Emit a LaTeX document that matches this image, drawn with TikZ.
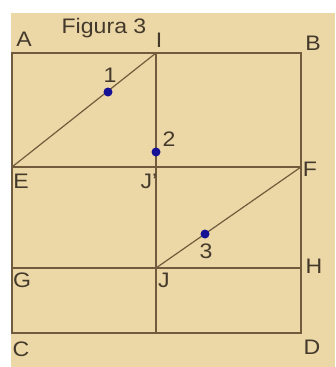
\documentclass[tikz,border=0pt]{standalone}
\usepackage{fontspec}
\setmainfont[FakeStretch=1.1]{Liberation Sans}
\definecolor{bg}{RGB}{236,215,166}
\definecolor{ln}{RGB}{112,92,60}
\definecolor{tx}{RGB}{68,58,44}
\definecolor{dotc}{RGB}{22,18,150}
\begin{document}
\begin{tikzpicture}[x=1pt,y=-1pt,
  side/.style={draw=ln,line width=2pt},
  diag/.style={draw=ln,line width=1.2pt},
  lab/.style={text=tx,font=\fontsize{21}{21}\selectfont,inner sep=0pt},
  pt/.style={circle,fill=dotc,inner sep=0pt,minimum size=9pt}]
\useasboundingbox (0,0) rectangle (335,367);
\fill[white] (0,0) rectangle (335,367);
\fill[bg] (11,13) rectangle (335,367);
% corner coordinates
\coordinate (A) at (12,53);
\coordinate (I) at (156,53);
\coordinate (B) at (301,53);
\coordinate (E) at (12,167);
\coordinate (Jp) at (156,167);
\coordinate (F) at (301,167);
\coordinate (G) at (12,268);
\coordinate (J) at (156,268);
\coordinate (H) at (301,268);
\coordinate (C) at (12,333);
\coordinate (K) at (156,333);
\coordinate (D) at (301,333);
% lines
\draw[side] (A) -- (B) -- (D) -- (C) -- cycle;
\draw[side] (I) -- (K);
\draw[side] (E) -- (F);
\draw[side] (G) -- (H);
\draw[diag] (E) -- (I);
\draw[diag] (J) -- (F);
% points
\node[pt] (p1) at (108,92) {};
\node[pt] (p2) at (156,152) {};
\node[pt] (p3) at (205,234) {};
% labels
\node[lab] (tit) at (104,28) {Figura 3};
\node[lab] (lA) at (24,39) {A};
\node[lab] (lI) at (159,40) {I};
\node[lab] (lB) at (313,43) {B};
\node[lab] (l1) at (110,75) {1};
\node[lab] (l2) at (169,139) {2};
\node[lab] (lE) at (21,181) {E};
\node[lab] (lJp) at (149,181) {J'};
\node[lab] (lF) at (310,169) {F};
\node[lab] (l3) at (206,251) {3};
\node[lab] (lH) at (314,266) {H};
\node[lab] (lG) at (22,280) {G};
\node[lab] (lJ) at (164,280) {J};
\node[lab] (lC) at (21,349) {C};
\node[lab] (lD) at (312,347) {D};
\end{tikzpicture}
\end{document}
